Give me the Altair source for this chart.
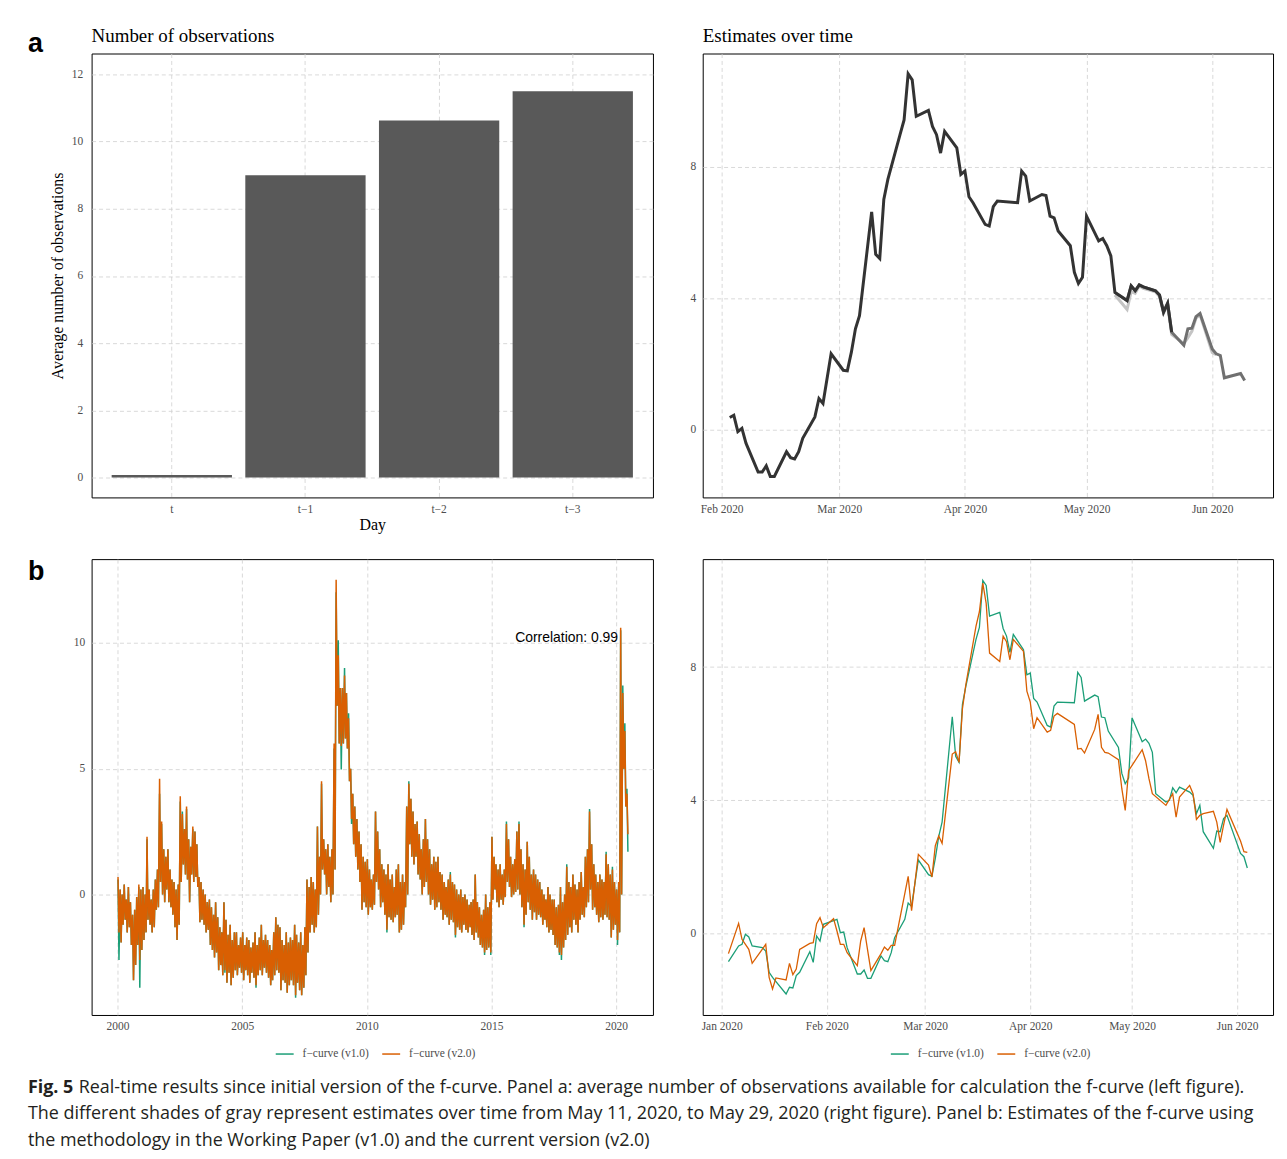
import altair as alt
import pandas as pd

# ---------------- Panel a (left): number of observations ----------------
DAY_LABELS = ["t", "t−1", "t−2", "t−3"]
OBS_VALUES = [0.08, 9.0, 10.63, 11.5]

# ---------------- Panel a (right): estimates over time (vintages) ----------------
EST_DARK_DATES = [
    "2020-02-03", "2020-02-04", "2020-02-05", "2020-02-06", "2020-02-07",
    "2020-02-10", "2020-02-11", "2020-02-12", "2020-02-13", "2020-02-14",
    "2020-02-17", "2020-02-18", "2020-02-19", "2020-02-20", "2020-02-21",
    "2020-02-24", "2020-02-25", "2020-02-26", "2020-02-28",
    "2020-03-02", "2020-03-03", "2020-03-04", "2020-03-05", "2020-03-06",
    "2020-03-09", "2020-03-10", "2020-03-11", "2020-03-12", "2020-03-13",
    "2020-03-16", "2020-03-17", "2020-03-18", "2020-03-19", "2020-03-20",
    "2020-03-23", "2020-03-24", "2020-03-25", "2020-03-26", "2020-03-27",
    "2020-03-30", "2020-03-31",
    "2020-04-01", "2020-04-02", "2020-04-03",
    "2020-04-06", "2020-04-07", "2020-04-08", "2020-04-09",
    "2020-04-14", "2020-04-15", "2020-04-16", "2020-04-17",
    "2020-04-20", "2020-04-21", "2020-04-22", "2020-04-23", "2020-04-24",
    "2020-04-27", "2020-04-28", "2020-04-29", "2020-04-30",
    "2020-05-01",
    "2020-05-04", "2020-05-05", "2020-05-06", "2020-05-07", "2020-05-08",
    "2020-05-11", "2020-05-12", "2020-05-13", "2020-05-14", "2020-05-15",
    "2020-05-18", "2020-05-19", "2020-05-20", "2020-05-21", "2020-05-22",
]
EST_DARK = [
    0.37, 0.44, -0.06, 0.04, -0.41,
    -1.29, -1.29, -1.10, -1.42, -1.42,
    -0.67, -0.85, -0.89, -0.67, -0.26,
    0.39, 0.95, 0.80, 2.31,
    1.81, 1.79, 2.36, 3.07, 3.47,
    6.63, 5.34, 5.21, 7.01, 7.62,
    8.98, 9.43, 10.83, 10.65, 9.54,
    9.72, 9.23, 8.98, 8.42, 9.08,
    8.58, 7.77,
    7.87, 7.09, 6.91,
    6.25, 6.20, 6.79, 6.96,
    6.91, 7.87, 7.72, 6.96,
    7.16, 7.13, 6.50, 6.45, 6.05,
    5.60, 4.79, 4.45, 4.64,
    6.50,
    5.75, 5.82, 5.60, 5.29, 4.18,
    3.93, 4.38, 4.23, 4.41, 4.35,
    4.23, 4.10, 3.58, 3.85, 2.97,
]
EST_MID_DATES = [
    "2020-05-08", "2020-05-11", "2020-05-12", "2020-05-13", "2020-05-14", "2020-05-15",
    "2020-05-18", "2020-05-19", "2020-05-20", "2020-05-21", "2020-05-22",
    "2020-05-25", "2020-05-26", "2020-05-27", "2020-05-28", "2020-05-29",
    "2020-06-01", "2020-06-02", "2020-06-03", "2020-06-04", "2020-06-08", "2020-06-09",
]
EST_MID = [
    4.18, 3.93, 4.38, 4.23, 4.41, 4.35,
    4.23, 4.10, 3.58, 3.85, 2.97,
    2.57, 3.07, 3.09, 3.44, 3.54,
    2.46, 2.31, 2.26, 1.58, 1.71, 1.50,
]
EST_LIGHT_DATES = [
    "2020-05-08", "2020-05-11", "2020-05-12", "2020-05-13", "2020-05-14", "2020-05-15",
    "2020-05-18", "2020-05-19", "2020-05-20", "2020-05-21", "2020-05-22",
    "2020-05-25", "2020-05-26", "2020-05-27", "2020-05-28", "2020-05-29",
    "2020-06-01", "2020-06-02",
]
EST_LIGHT = [
    4.10, 3.66, 4.20, 4.15, 4.38, 4.30,
    4.20, 4.05, 3.55, 3.80, 2.90,
    2.62, 2.80, 3.00, 3.40, 3.50,
    2.35, 2.28,
]

# ---------------- Panel b (left): long history, monthly high / low envelope ----------------
# v2.0 (orange), Jan 2000 ... Jun 2020, one high and one low per month
V2_HIGH = [
    0.7, 0.2, 0.0, 0.4, -0.2, 0.3, -0.3, -0.8, -0.6, -0.1, 0.4, 0.2,      # 2000
    0.3, 0.0, 2.3, 0.2, -0.2, 0.2, 0.6, 1.0, 4.6, 2.9, 1.8, 1.5,          # 2001
    1.8, 1.0, 0.6, 0.5, 0.2, 0.4, 3.9, 3.2, 2.6, 3.5, 2.2, 1.9,           # 2002
    2.7, 2.5, 2.0, 0.7, 0.5, 0.2, 0.0, -0.3, -0.2, -0.5, -0.8, -0.3,      # 2003
    -0.9, -1.3, -1.5, -0.3, -1.0, -1.6, -1.2, -1.8, -1.5, -1.5, -2.0, -1.7,  # 2004
    -1.5, -2.0, -1.7, -1.8, -2.1, -1.9, -1.5, -2.0, -1.7, -1.2, -1.8, -1.6,  # 2005
    -1.8, -2.0, -2.2, -1.5, -0.9, -1.2, -1.3, -1.8, -2.0, -1.5, -1.9, -1.7,  # 2006
    -1.8, -1.2, -1.6, -1.9, -1.5, -2.0, -1.3, 0.6, 0.3, 0.7, 0.5, 0.2,    # 2007
    2.7, 1.5, 4.5, 2.2, 1.8, 2.0, 1.5, 1.8, 6.0, 12.5, 9.5, 8.2,          # 2008
    8.2, 8.7, 8.0, 7.0, 5.0, 4.0, 3.5, 3.0, 2.5, 2.0, 1.5, 1.3,           # 2009
    1.4, 1.0, 0.6, 0.8, 3.3, 2.5, 1.8, 1.2, 1.0, 0.8, 1.2, 0.6,           # 2010
    0.8, 0.3, 1.0, 1.2, 0.5, 0.8, 0.5, 3.5, 4.4, 3.8, 3.3, 2.8,           # 2011
    2.9, 2.4, 1.8, 2.2, 3.0, 2.2, 1.8, 1.2, 1.5, 1.3, 1.5, 0.9,           # 2012
    0.8, 0.5, 0.3, 0.6, 0.8, 0.5, 0.4, 0.2, 0.0, 0.2, -0.1, 0.0,          # 2013
    -0.2, -0.4, -0.3, -0.2, 0.8, -0.3, -0.5, -0.8, -0.6, 0.0, -0.5, -0.3,  # 2014
    2.3, 1.5, 1.2, 1.0, 1.2, 0.8, 1.0, 2.8, 2.2, 1.5, 1.2, 1.4,           # 2015
    2.5, 2.8, 1.8, 1.2, 1.0, 2.1, 1.5, 0.8, 1.0, 0.8, 0.6, 0.5,           # 2016
    0.2, 0.0, -0.2, 0.3, 0.0, -0.2, -0.2, -0.5, -0.4, 0.3, -0.3, 0.0,     # 2017
    1.1, 0.5, 0.3, 0.8, 0.4, 0.2, 0.5, 0.9, 0.3, 1.5, 1.8, 3.3,           # 2018
    2.0, 1.2, 0.8, 0.5, 0.8, 0.6, 0.5, 1.6, 1.2, 0.8, 1.0, 0.5,           # 2019
    0.2, 0.5, 10.6, 8.0, 6.5, 4.0,                                         # 2020
]
V2_LOW = [
    -1.5, -1.9, -1.2, -1.0, -1.5, -1.3, -2.0, -3.4, -2.8, -2.0, -2.6, -2.2,  # 2000
    -1.8, -1.5, -1.0, -1.2, -1.5, -1.3, -0.6, -0.5, 0.5, 0.0, -0.3, 0.2,     # 2001
    -0.3, -0.5, -0.8, -1.3, -1.8, -1.2, 0.5, 1.2, 0.8, 0.6, -0.3, 0.8,       # 2002
    0.5, 0.7, 0.3, -1.1, -1.0, -1.2, -1.5, -1.4, -2.0, -2.2, -2.5, -2.3,     # 2003
    -3.0, -2.8, -3.2, -3.0, -3.5, -3.1, -3.6, -3.3, -3.0, -3.2, -2.9, -3.1,  # 2004
    -3.4, -3.0, -3.2, -3.5, -3.1, -3.3, -3.6, -3.2, -3.0, -3.2, -2.9, -3.1,  # 2005
    -3.3, -3.6, -3.4, -3.2, -3.0, -3.1, -3.8, -3.4, -3.5, -3.9, -3.6, -3.4,  # 2006
    -3.6, -4.0, -3.5, -3.8, -4.0, -3.7, -3.2, -2.3, -1.5, -1.2, -1.5, -1.3,  # 2007
    -0.8, 0.0, 1.0, 0.8, 0.0, 0.3, -0.3, 0.0, 1.0, 7.5, 6.0, 5.9,            # 2008
    6.0, 6.2, 5.8, 4.5, 3.0, 2.0, 1.5, 1.0, 0.5, -0.6, -0.3, -0.5,           # 2009
    -0.8, -0.5, -0.6, -0.4, 0.5, 0.2, -0.5, -0.3, -0.8, -1.4, -0.9, -1.0,    # 2010
    -1.1, -0.9, -0.8, -1.5, -1.4, -1.2, -0.5, 0.0, 2.0, 1.5, 1.2, 1.5,       # 2011
    0.8, 0.6, 0.0, 0.3, 0.5, 0.0, -0.4, -0.2, -0.6, -0.5, -0.3, -0.6,        # 2012
    -1.0, -0.8, -0.9, -1.2, -1.0, -1.1, -1.6, -1.3, -1.4, -1.5, -1.2, -1.4,  # 2013
    -1.5, -1.3, -1.6, -1.8, -1.5, -1.7, -2.0, -2.1, -2.3, -2.2, -2.1, -2.3,  # 2014
    -0.2, 0.2, -0.3, -0.5, -0.2, -0.4, -0.1, 0.5, 0.3, -0.1, 0.0, 0.1,       # 2015
    0.2, 0.0, -0.5, -1.2, -0.8, -0.3, -0.6, -1.0, -0.7, -1.0, -0.8, -0.9,    # 2016
    -1.2, -1.0, -1.3, -1.5, -1.4, -1.6, -2.0, -2.1, -2.3, -2.4, -2.1, -1.8,  # 2017
    -1.6, -1.3, -1.5, -1.0, -1.2, -1.5, -1.0, -0.8, -0.9, -0.5, -0.3, 0.2,   # 2018
    -0.6, -0.5, -0.8, -1.1, -0.9, -1.0, -0.8, -0.9, -1.0, -1.7, -1.4, -1.2,  # 2019
    -1.8, -1.5, 0.0, 5.0, 3.5, 2.4,                                           # 2020
]
# v1.0 (green), same months
V1_HIGH = [
    0.6, 0.2, 0.0, 0.4, -0.2, 0.3, -0.3, -0.8, -0.6, -0.1, 0.3, 0.2,      # 2000
    0.3, 0.0, 2.2, 0.2, -0.2, 0.2, 0.6, 1.0, 4.0, 2.8, 1.8, 1.5,          # 2001
    1.8, 1.0, 0.6, 0.5, 0.2, 0.4, 3.7, 3.3, 2.6, 3.4, 2.2, 1.9,           # 2002
    2.6, 2.5, 2.0, 0.7, 0.5, 0.2, 0.0, -0.3, -0.2, -0.5, -0.8, -0.3,      # 2003
    -0.9, -1.3, -1.5, -0.3, -1.0, -1.6, -1.2, -1.8, -1.5, -1.5, -2.0, -1.7,  # 2004
    -1.5, -2.0, -1.7, -1.8, -2.1, -1.9, -1.5, -2.0, -1.7, -1.2, -1.8, -1.6,  # 2005
    -1.8, -2.0, -2.2, -1.5, -0.9, -1.2, -1.3, -1.8, -2.0, -1.5, -1.9, -1.7,  # 2006
    -1.8, -1.2, -1.6, -1.9, -1.5, -2.0, -1.3, 0.6, 0.3, 0.7, 0.5, 0.2,    # 2007
    2.7, 1.5, 4.4, 2.2, 1.8, 2.0, 1.5, 1.8, 5.8, 12.0, 10.1, 8.2,         # 2008
    8.2, 9.0, 8.0, 7.2, 5.0, 4.0, 3.5, 3.0, 2.5, 2.0, 1.5, 1.3,           # 2009
    1.4, 1.0, 0.6, 0.8, 3.3, 2.5, 1.8, 1.2, 1.0, 0.8, 1.2, 0.6,           # 2010
    0.8, 0.3, 1.0, 1.2, 0.5, 0.8, 0.5, 3.5, 4.5, 3.8, 3.3, 2.8,           # 2011
    2.9, 2.4, 1.8, 2.2, 3.0, 2.2, 1.8, 1.2, 1.5, 1.3, 1.5, 0.9,           # 2012
    0.8, 0.5, 0.3, 0.6, 0.9, 0.5, 0.4, 0.2, 0.0, 0.2, -0.1, 0.0,          # 2013
    -0.2, -0.4, -0.3, -0.2, 0.8, -0.3, -0.5, -0.8, -0.6, 0.0, -0.5, -0.3,  # 2014
    2.3, 1.5, 1.2, 1.0, 1.2, 0.8, 1.0, 2.9, 2.2, 1.5, 1.2, 1.4,           # 2015
    2.5, 2.9, 1.8, 1.2, 1.0, 2.1, 1.5, 0.8, 1.0, 0.8, 0.6, 0.5,           # 2016
    0.2, 0.0, -0.2, 0.3, 0.0, -0.2, -0.2, -0.5, -0.4, 0.3, -0.3, 0.0,     # 2017
    1.2, 0.5, 0.3, 0.8, 0.4, 0.2, 0.5, 0.9, 0.3, 1.5, 1.8, 3.4,           # 2018
    2.0, 1.2, 0.8, 0.5, 0.8, 0.6, 0.5, 1.7, 1.2, 0.8, 1.1, 0.5,           # 2019
    0.2, 0.5, 10.5, 8.3, 6.8, 4.2,                                         # 2020
]
V1_LOW = [
    -2.6, -1.9, -1.2, -1.0, -1.5, -1.3, -2.0, -3.4, -2.8, -2.0, -3.7, -2.2,  # 2000
    -1.8, -1.5, -1.0, -1.2, -1.5, -1.3, -0.6, -0.5, 0.5, 0.0, -0.3, 0.2,     # 2001
    -0.3, -0.5, -0.8, -1.3, -1.8, -1.2, 0.5, 1.2, 0.8, 0.6, -0.3, 0.8,       # 2002
    0.5, 0.7, 0.3, -1.1, -1.0, -1.2, -1.5, -1.4, -2.0, -2.2, -2.5, -2.3,     # 2003
    -3.0, -2.8, -3.2, -3.1, -3.5, -3.1, -3.6, -3.3, -3.0, -3.2, -2.9, -3.1,  # 2004
    -3.4, -3.0, -3.2, -3.5, -3.1, -3.3, -3.7, -3.2, -3.0, -3.2, -2.9, -3.1,  # 2005
    -3.3, -3.6, -3.4, -3.2, -3.0, -3.1, -3.8, -3.4, -3.5, -3.9, -3.6, -3.4,  # 2006
    -3.6, -4.1, -3.5, -3.8, -4.0, -3.7, -3.2, -2.3, -1.5, -1.2, -1.5, -1.3,  # 2007
    -0.8, 0.0, 1.0, 0.8, 0.0, 0.3, -0.3, 0.0, 1.0, 7.5, 6.0, 4.97,           # 2008
    6.0, 6.2, 5.8, 4.5, 2.8, 2.0, 1.5, 1.0, 0.5, -0.6, -0.3, -0.5,           # 2009
    -0.8, -0.5, -0.6, -0.4, 0.5, 0.2, -0.5, -0.3, -0.8, -1.5, -0.9, -1.0,    # 2010
    -1.1, -0.9, -0.8, -1.5, -1.4, -1.2, -0.5, 0.0, 2.0, 1.5, 1.2, 1.5,       # 2011
    0.8, 0.6, 0.0, 0.3, 0.5, 0.0, -0.4, -0.2, -0.6, -0.5, -0.3, -0.6,        # 2012
    -1.0, -0.8, -0.9, -1.2, -1.0, -1.1, -1.7, -1.3, -1.4, -1.5, -1.2, -1.4,  # 2013
    -1.5, -1.3, -1.6, -1.8, -1.5, -1.7, -2.0, -2.1, -2.4, -2.2, -2.1, -2.4,  # 2014
    -0.2, 0.2, -0.3, -0.5, -0.2, -0.4, -0.1, 0.5, 0.3, -0.1, 0.0, 0.1,       # 2015
    0.2, 0.0, -0.5, -1.3, -0.8, -0.3, -0.6, -1.0, -0.7, -1.0, -0.8, -0.9,    # 2016
    -1.2, -1.0, -1.3, -1.5, -1.4, -1.6, -2.0, -2.1, -2.4, -2.6, -2.1, -1.8,  # 2017
    -1.6, -1.3, -1.5, -1.0, -1.2, -1.5, -1.0, -0.8, -0.9, -0.5, -0.3, 0.2,   # 2018
    -0.6, -0.5, -0.8, -1.1, -0.9, -1.0, -0.8, -0.9, -1.0, -1.7, -1.4, -1.2,  # 2019
    -2.0, -1.5, 0.0, 5.0, 3.5, 1.7,                                           # 2020
]

# ---------------- Panel b (right): 2020 daily estimates ----------------
V1_2020_DATES = [
    "2020-01-03", "2020-01-06", "2020-01-07", "2020-01-08", "2020-01-09", "2020-01-10",
    "2020-01-13", "2020-01-14", "2020-01-15", "2020-01-16",
    "2020-01-20", "2020-01-21", "2020-01-22", "2020-01-23", "2020-01-24",
    "2020-01-27", "2020-01-28", "2020-01-29", "2020-01-30", "2020-01-31",
    "2020-02-04", "2020-02-05", "2020-02-06", "2020-02-07",
    "2020-02-10", "2020-02-11", "2020-02-12", "2020-02-13", "2020-02-14",
    "2020-02-17", "2020-02-18", "2020-02-19", "2020-02-20", "2020-02-21",
    "2020-02-24", "2020-02-25", "2020-02-26", "2020-02-28",
    "2020-03-02", "2020-03-03", "2020-03-04", "2020-03-05", "2020-03-06",
    "2020-03-09", "2020-03-10", "2020-03-11", "2020-03-12", "2020-03-13",
    "2020-03-16", "2020-03-17", "2020-03-18", "2020-03-19", "2020-03-20",
    "2020-03-23", "2020-03-24", "2020-03-25", "2020-03-26", "2020-03-27",
    "2020-03-30", "2020-03-31",
    "2020-04-01", "2020-04-02", "2020-04-03",
    "2020-04-06", "2020-04-07", "2020-04-08", "2020-04-09",
    "2020-04-14", "2020-04-15", "2020-04-16", "2020-04-17",
    "2020-04-20", "2020-04-21", "2020-04-22", "2020-04-23", "2020-04-24",
    "2020-04-27", "2020-04-28", "2020-04-29", "2020-04-30",
    "2020-05-01",
    "2020-05-04", "2020-05-05", "2020-05-06", "2020-05-07", "2020-05-08",
    "2020-05-11", "2020-05-12", "2020-05-13", "2020-05-14", "2020-05-15",
    "2020-05-18", "2020-05-19", "2020-05-20", "2020-05-21", "2020-05-22",
    "2020-05-25", "2020-05-26", "2020-05-27", "2020-05-28", "2020-05-29",
    "2020-06-02", "2020-06-03", "2020-06-04",
]
V1_2020 = [
    -0.84, -0.37, -0.32, -0.02, -0.10, -0.37,
    -0.42, -0.52, -1.16, -1.31,
    -1.81, -1.61, -1.63, -1.26, -1.16,
    -0.54, -0.86, -0.07, -0.22, 0.28,
    0.43, 0.03, 0.05, -0.42,
    -1.21, -1.21, -1.09, -1.34, -1.34,
    -0.67, -0.81, -0.84, -0.57, -0.12,
    0.43, 0.92, 0.82, 2.21,
    1.77, 1.72, 2.26, 2.91, 3.35,
    6.51, 5.32, 5.14, 6.88, 7.42,
    8.83, 9.19, 10.60, 10.45, 9.53,
    9.64, 9.16, 8.93, 8.44, 8.98,
    8.52, 7.77,
    7.82, 7.06, 6.95,
    6.25, 6.20, 6.83, 6.95,
    6.93, 7.84, 7.69, 6.98,
    7.16, 7.11, 6.50, 6.48, 6.08,
    5.59, 4.81, 4.50, 4.67,
    6.48,
    5.76, 5.84, 5.71, 5.44, 4.20,
    3.95, 4.00, 4.38, 4.23, 4.40,
    4.25, 4.15, 3.60, 3.85, 3.06,
    2.56, 3.08, 3.06, 3.45, 3.55,
    2.41, 2.31, 1.97,
]
V2_2020_DATES = [
    "2020-01-03", "2020-01-06", "2020-01-07", "2020-01-09", "2020-01-10",
    "2020-01-14", "2020-01-15", "2020-01-16", "2020-01-17",
    "2020-01-20", "2020-01-21", "2020-01-22", "2020-01-23", "2020-01-24",
    "2020-01-27", "2020-01-28", "2020-01-29", "2020-01-30", "2020-01-31",
    "2020-02-03", "2020-02-04", "2020-02-05", "2020-02-06", "2020-02-07",
    "2020-02-10", "2020-02-11", "2020-02-12", "2020-02-13", "2020-02-14",
    "2020-02-17", "2020-02-18", "2020-02-19", "2020-02-20", "2020-02-21",
    "2020-02-25", "2020-02-26", "2020-02-28",
    "2020-03-02", "2020-03-03", "2020-03-04", "2020-03-05", "2020-03-06",
    "2020-03-09", "2020-03-10", "2020-03-11", "2020-03-12", "2020-03-13",
    "2020-03-16", "2020-03-17", "2020-03-18", "2020-03-19", "2020-03-20",
    "2020-03-23", "2020-03-24", "2020-03-25", "2020-03-26", "2020-03-27",
    "2020-03-30", "2020-03-31",
    "2020-04-01", "2020-04-02", "2020-04-03",
    "2020-04-06", "2020-04-07", "2020-04-08", "2020-04-09",
    "2020-04-14", "2020-04-15", "2020-04-16", "2020-04-17",
    "2020-04-20", "2020-04-21", "2020-04-22", "2020-04-23", "2020-04-24",
    "2020-04-27", "2020-04-28", "2020-04-29", "2020-04-30",
    "2020-05-04", "2020-05-05", "2020-05-06", "2020-05-07",
    "2020-05-11", "2020-05-13", "2020-05-14", "2020-05-15",
    "2020-05-18", "2020-05-19", "2020-05-20", "2020-05-21", "2020-05-22",
    "2020-05-25", "2020-05-26", "2020-05-27", "2020-05-28", "2020-05-29",
    "2020-06-02", "2020-06-03", "2020-06-04",
]
V2_2020 = [
    -0.60, 0.31, -0.17, -0.47, -0.89,
    -0.32, -1.31, -1.66, -1.33,
    -1.39, -0.89, -1.23, -1.06, -0.47,
    -0.29, -0.27, 0.30, 0.48, 0.18,
    0.45, 0.08, -0.32, -0.32, -0.57,
    -0.96, -0.22, 0.18, -0.47, -1.11,
    -0.60, -0.40, -0.50, -0.35, -0.35,
    1.72, 0.69, 2.38,
    2.06, 1.70, 2.64, 2.93, 2.71,
    5.39, 5.46, 5.14, 6.75, 7.47,
    9.23, 9.66, 10.52, 9.91, 8.42,
    8.17, 8.93, 8.76, 8.22, 8.83,
    8.47, 7.28,
    6.95, 6.15, 6.48,
    6.05, 6.10, 6.53, 6.61,
    6.28, 5.54, 5.56, 5.42,
    6.13, 6.58, 5.59, 5.44, 5.42,
    5.22, 4.35, 3.70, 4.89,
    5.52, 5.19, 4.65, 4.20,
    3.85, 4.20, 3.50, 4.10,
    4.45, 4.20, 3.43, 3.55, 3.60,
    3.67, 3.35, 2.74, 3.26, 3.73,
    2.78, 2.46, 2.44,
]

SERIES_NAMES = ["f−curve (v1.0)", "f−curve (v2.0)"]
SERIES_COLORS = ["#1b9e77", "#d95f02"]
CORRELATION_TEXT = ["Correlation: 0.99"]
PANEL_TITLES = ["Number of observations", "Estimates over time"]

CAPTION_BOLD = ["Fig. 5"]
CAPTION_LINES = [
    "Real-time results since initial version of the f-curve. Panel a: average number of observations available for calculation the f-curve (left figure).",
    "The different shades of gray represent estimates over time from May 11, 2020, to May 29, 2020 (right figure). Panel b: Estimates of the f-curve using",
    "the methodology in the Working Paper (v1.0) and the current version (v2.0)",
]

# ---------------- styling helpers ----------------
SERIF = "Liberation Serif"
SANS = "Liberation Sans"
LABEL_GREY = "#4d4d4d"
GRID_GREY = "#cfcfcf"
TICK_FS = 11.5


def axis(**kw):
    base = dict(labelFont=SERIF, labelFontSize=TICK_FS, labelColor=LABEL_GREY, ticks=False,
                domain=False, labelPadding=6, grid=True, gridColor=GRID_GREY,
                gridDash=[4, 3], gridWidth=0.8, titleFont=SERIF, titleFontSize=16,
                titleFontWeight="normal", titleColor="black")
    base.update(kw)
    return alt.Axis(**base)


def dt(y, m, d, h=0):
    return alt.DateTime(year=y, month=m, date=d, hours=h, utc=True)


def note(text, x, y, **kw):
    """A text mark placed relative to the panel frame (titles, panel letters)."""
    return alt.Chart(pd.DataFrame({"t": [text]})).mark_text(
        align="left", baseline="alphabetic", color="black", **kw
    ).encode(text="t:N", x=alt.value(x), y=alt.value(y))


def panel_letter(ch, ypos):
    return note(ch, -64, ypos, font=SANS, fontSize=27, fontWeight="bold")


def panel_title(text):
    return note(text, 0, -12, font=SERIF, fontSize=19)


def legend(x):
    return alt.Legend(orient="none", legendX=x, legendY=487, direction="horizontal",
                      title=None, labelFont=SERIF, labelFontSize=TICK_FS,
                      labelColor=LABEL_GREY, symbolType="stroke", symbolSize=324,
                      symbolStrokeWidth=1.5, labelOffset=8, columnPadding=10)


# ---------------- panel a, left ----------------
df_obs = pd.DataFrame({"day": DAY_LABELS, "obs": OBS_VALUES})
a_left = alt.layer(
    alt.Chart(df_obs).mark_bar(color="#595959").encode(
        x=alt.X("day:N", sort=DAY_LABELS,
                scale=alt.Scale(paddingInner=0.1, paddingOuter=0.15),
                axis=axis(title="Day", labelAngle=0, bandPosition=0.5, titlePadding=2)),
        y=alt.Y("obs:Q", scale=alt.Scale(domain=[-0.59, 12.62], nice=False),
                axis=axis(title="Average number of observations",
                          values=[0, 2, 4, 6, 8, 10, 12], labelPadding=9, titlePadding=6)),
    ),
    panel_title(PANEL_TITLES[0]),
    panel_letter("a", -2),
).properties(width=564, height=446)

# ---------------- panel a, right ----------------
x_tr = alt.X("date:T",
             scale=alt.Scale(type="utc", domain=[dt(2020, 1, 27, 8), dt(2020, 6, 16)]),
             axis=axis(title=None, values=[dt(2020, m, 1) for m in [2, 3, 4, 5, 6]],
                       format="%b %Y"))
y_tr = alt.Y("value:Q", scale=alt.Scale(domain=[-2.06, 11.45], nice=False, zero=False),
             axis=axis(title=None, values=[0, 4, 8], labelPadding=7))


def est_line(dates, vals, color):
    return alt.Chart(pd.DataFrame({"date": dates, "value": vals})).mark_line(
        color=color, strokeWidth=3).encode(x=x_tr, y=y_tr)


a_right = alt.layer(
    est_line(EST_LIGHT_DATES, EST_LIGHT, "#c4c4c4"),
    est_line(EST_MID_DATES, EST_MID, "#707070"),
    est_line(EST_DARK_DATES, EST_DARK, "#333333"),
    panel_title(PANEL_TITLES[1]),
).properties(width=573, height=446)

# ---------------- panel b, left ----------------
rows = []
for name, hi, lo in [(SERIES_NAMES[0], V1_HIGH, V1_LOW), (SERIES_NAMES[1], V2_HIGH, V2_LOW)]:
    for i, (h, l) in enumerate(zip(hi, lo)):
        yr, mo = 2000 + i // 12, i % 12 + 1
        rows.append((name, f"{yr}-{mo:02d}-08", h))
        rows.append((name, f"{yr}-{mo:02d}-22", l))
df_long = pd.DataFrame(rows, columns=["series", "date", "value"])

color_scale = alt.Scale(domain=SERIES_NAMES, range=SERIES_COLORS)
x_bl = alt.X("date:T",
             scale=alt.Scale(type="utc", domain=[dt(1998, 12, 17), dt(2021, 6, 24)]),
             axis=axis(title=None, values=[dt(y, 1, 1) for y in [2000, 2005, 2010, 2015, 2020]],
                       format="%Y"))
y_bl = alt.Y("value:Q", scale=alt.Scale(domain=[-4.78, 13.32], nice=False, zero=False),
             axis=axis(title=None, values=[0, 5, 10], labelPadding=7))

b_left = alt.layer(
    alt.Chart(df_long).mark_line(strokeWidth=1.5).encode(
        x=x_bl, y=y_bl,
        color=alt.Color("series:N", scale=color_scale, legend=legend(184))),
    alt.Chart(pd.DataFrame({"date": ["2020-01-30"], "value": [10.2],
                            "label": CORRELATION_TEXT})).mark_text(
        align="right", baseline="middle", font=SANS, fontSize=14, color="black"
    ).encode(x=x_bl, y=y_bl, text="label:N"),
    panel_letter("b", 21),
).properties(width=564, height=458)

# ---------------- panel b, right ----------------
df_2020 = pd.concat([
    pd.DataFrame({"series": SERIES_NAMES[0], "date": V1_2020_DATES, "value": V1_2020}),
    pd.DataFrame({"series": SERIES_NAMES[1], "date": V2_2020_DATES, "value": V2_2020}),
])
x_br = alt.X("date:T",
             scale=alt.Scale(type="utc", domain=[dt(2019, 12, 26, 10), dt(2020, 6, 11, 14)]),
             axis=axis(title=None, values=[dt(2020, m, 1) for m in [1, 2, 3, 4, 5, 6]],
                       format="%b %Y"))
y_br = alt.Y("value:Q", scale=alt.Scale(domain=[-2.44, 11.24], nice=False, zero=False),
             axis=axis(title=None, values=[0, 4, 8], labelPadding=7))
b_right = alt.Chart(df_2020).mark_line(strokeWidth=1.3).encode(
    x=x_br, y=y_br,
    color=alt.Color("series:N", scale=color_scale, legend=legend(188)),
).properties(width=573, height=458)

# ---------------- caption ----------------
cap_y = alt.Y("line:O", axis=None, scale=alt.Scale(domain=[1, 2, 3]))
CAP_KW = dict(align="left", baseline="middle", font="Open Sans", fontSize=18, color="#231f20")
caption = alt.layer(
    alt.Chart(pd.DataFrame({"line": [1], "text": CAPTION_BOLD})).mark_text(
        fontWeight="bold", **CAP_KW).encode(x=alt.value(-64), y=cap_y, text="text:N"),
    alt.Chart(pd.DataFrame({"line": [1], "text": CAPTION_LINES[:1]})).mark_text(
        **CAP_KW).encode(x=alt.value(-13), y=cap_y, text="text:N"),
    alt.Chart(pd.DataFrame({"line": [2, 3], "text": CAPTION_LINES[1:]})).mark_text(
        **CAP_KW).encode(x=alt.value(-64), y=cap_y, text="text:N"),
).properties(width=1100, height=80, view=alt.ViewBackground(stroke="transparent"))

# ---------------- assemble ----------------
top = alt.hconcat(a_left, a_right, spacing=35)
bottom = alt.hconcat(b_left, b_right, spacing=35).resolve_scale(color="independent")
panels = alt.vconcat(top, bottom, spacing=24)
chart = alt.vconcat(panels, caption, spacing=13).properties(
    padding={"left": 19, "top": 15, "right": 5, "bottom": 5}
).configure_view(stroke="black", strokeWidth=1)

chart.save("out.html", embed_options={"renderer": "svg", "actions": False})
